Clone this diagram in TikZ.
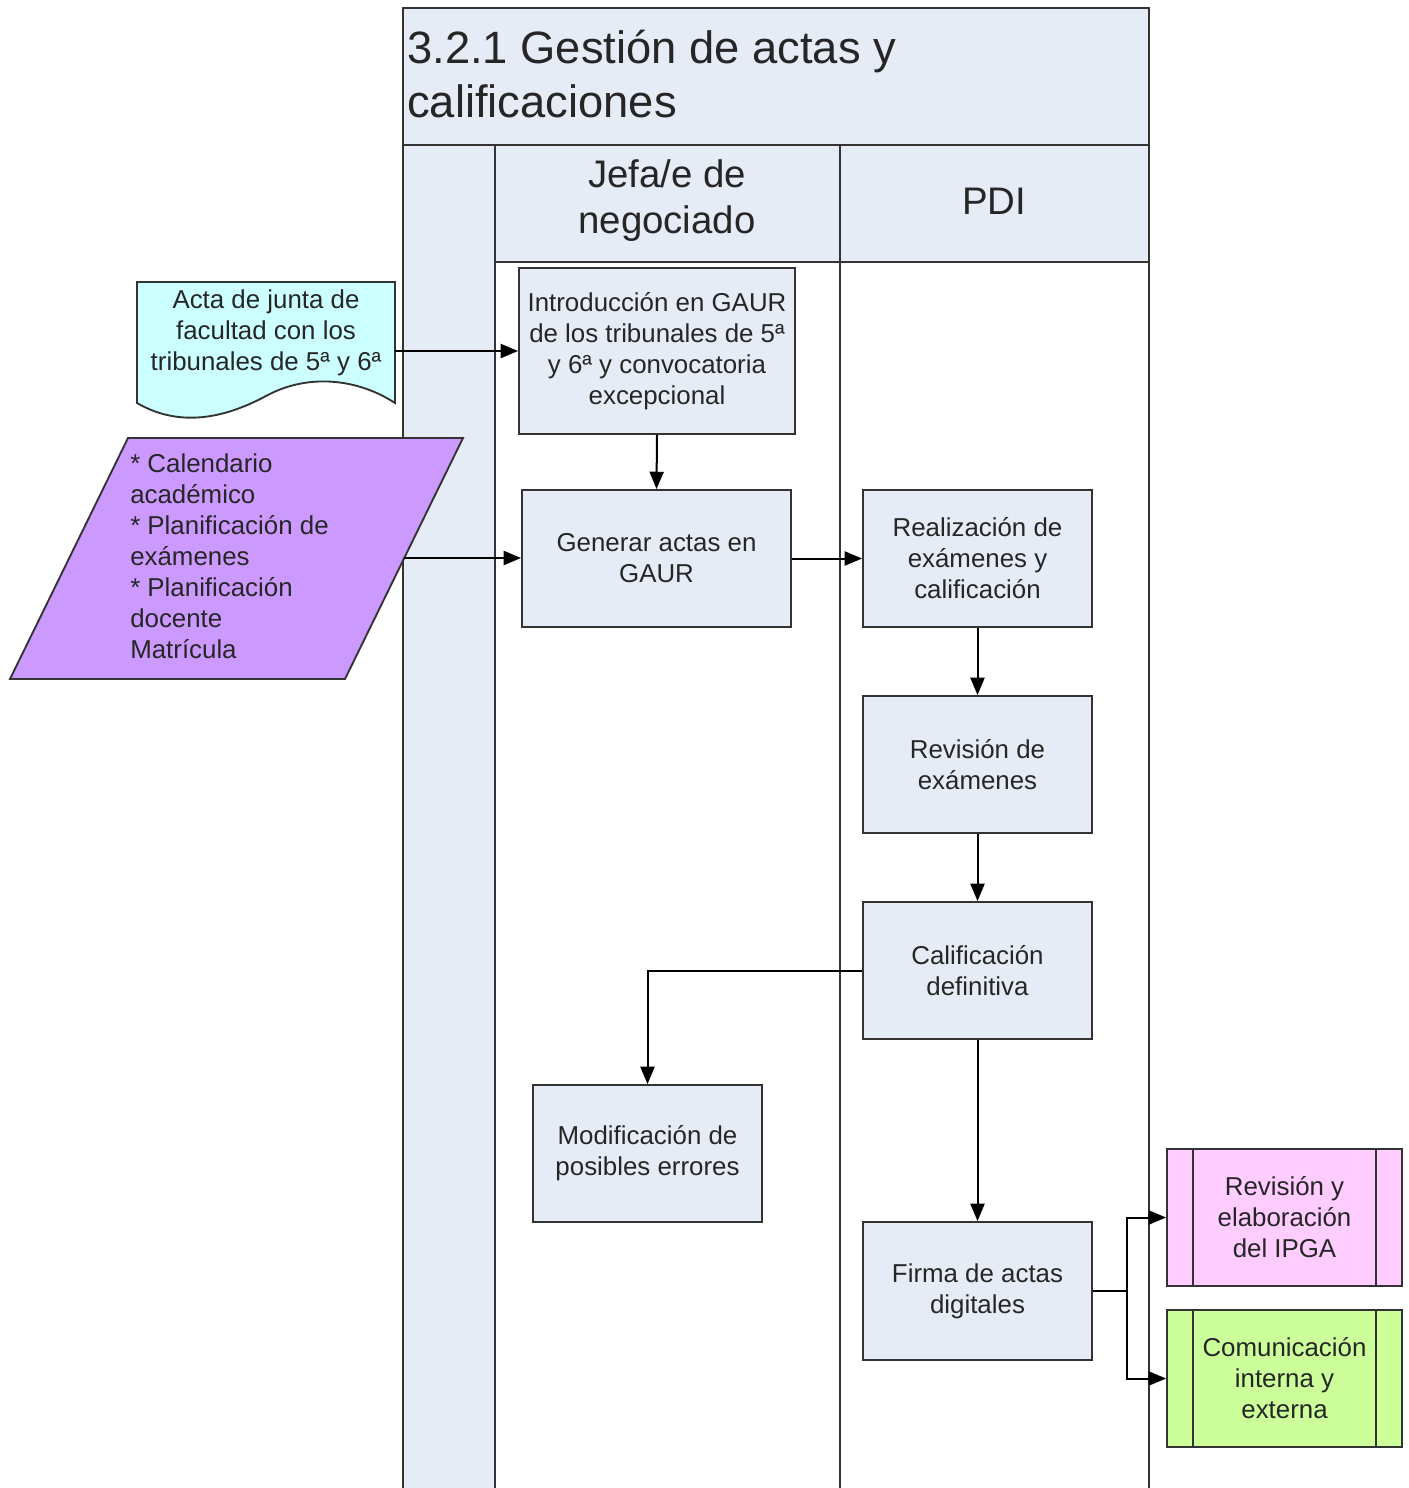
\documentclass[tikz,border=0pt]{standalone}
\usepackage{fontspec}
\setmainfont{Liberation Sans}
\usetikzlibrary{arrows.meta}
\definecolor{boxfill}{HTML}{E6ECF6}
\definecolor{poolfill}{HTML}{E6ECF6}
\definecolor{docfill}{HTML}{CCFFFF}
\definecolor{datafill}{HTML}{CC99FF}
\definecolor{pinkfill}{HTML}{FFCCFF}
\definecolor{greenfill}{HTML}{CCFF99}
\definecolor{textc}{HTML}{262626}
\definecolor{edgec}{HTML}{333333}
\begin{document}
\begin{tikzpicture}[x=0.75pt,y=-0.75pt,
  laneline/.style={draw=edgec, line width=2pt},
  txt/.style={text=textc, font=\fontsize{19.4}{23.3}\selectfont, inner sep=0pt},
  proc/.style={txt, draw=edgec, line width=1.4pt, fill=boxfill, align=center},
  arr/.style={draw=black, line width=1.5pt, -{Triangle[length=13pt,width=10.5pt]}},
  plain/.style={draw=black, line width=1.5pt}
]
\useasboundingbox (0,0) rectangle (1409,1488);
\fill[white] (0,0) rectangle (1409,1488);

% pool: title band, lane headers and left column
\fill[poolfill] (403,8) rectangle (1149,262);
\fill[poolfill] (403,262) rectangle (495,1488);
\draw[laneline] (403,1488) -- (403,8) -- (1149,8) -- (1149,1488);
\draw[laneline] (403,145) -- (1149,145);
\draw[laneline] (495,262) -- (1149,262);
\draw[laneline] (495,145) -- (495,1488);
\draw[laneline] (840,145) -- (840,1488);

\node[txt, anchor=west, align=left, font=\fontsize{34}{40.5}\selectfont] (title) at (407,74)
  {3.2.1 Gestión de actas y\\calificaciones};
\node[txt, align=center, font=\fontsize{28.8}{34.5}\selectfont] (jefa) at (667,201) {Jefa/e de\\negociado};
\node[txt, font=\fontsize{28.8}{34.5}\selectfont] (pdi) at (994,201) {PDI};

% input document
\draw[edgec, line width=1.4pt, fill=docfill]
  (137,282) -- (395,282) -- (395,403)
  .. controls (360,380) and (310,372) .. (266,396)
  .. controls (225,418) and (180,428) .. (137,403) -- cycle;
\node[txt, align=center, minimum width=193.5pt] (doc) at (266,333)
  {Acta de junta de\\facultad con los\\tribunales de 5ª y 6ª};

% input data (parallelogram)
\draw[edgec, line width=1.4pt, fill=datafill]
  (128,438) -- (463,438) -- (345,679) -- (10,679) -- cycle;
\node[txt, anchor=west, align=left] (inp) at (130,556)
  {* Calendario\\académico\\* Planificación de\\exámenes\\* Planificación\\docente\\Matrícula};
\coordinate (inpR) at (404,558);

% process steps
\node[proc, minimum width=207pt, minimum height=124.5pt] (intro) at (657,351)
  {Introducción en GAUR\\de los tribunales de 5ª\\y 6ª y convocatoria\\excepcional};
\node[proc, minimum width=201.75pt, minimum height=102.75pt] (gen) at (656.5,558.5)
  {Generar actas en\\GAUR};
\node[proc, minimum width=171.75pt, minimum height=102.75pt] (real) at (977.5,558.5)
  {Realización de\\exámenes y\\calificación};
\node[proc, minimum width=171.75pt, minimum height=102.75pt] (rev) at (977.5,764.5)
  {Revisión de\\exámenes};
\node[proc, minimum width=171.75pt, minimum height=102.75pt] (calif) at (977.5,970.5)
  {Calificación\\definitiva};
\node[proc, minimum width=171.75pt, minimum height=102.75pt] (modif) at (647.5,1153.5)
  {Modificación de\\posibles errores};
\node[proc, minimum width=171.75pt, minimum height=103.5pt] (firma) at (977.5,1291)
  {Firma de actas\\digitales};

% predefined processes
\node[proc, fill=pinkfill, minimum width=176.25pt, minimum height=102.75pt] (ipga) at (1284.5,1217.5)
  {Revisión y\\elaboración\\del IPGA};
\node[proc, fill=greenfill, minimum width=176.25pt, minimum height=102.75pt] (com) at (1284.5,1378.5)
  {Comunicación\\interna y\\externa};
\foreach \n in {ipga,com}{
  \draw[edgec, line width=1.4pt] ([xshift=20pt]\n.north west) -- ([xshift=20pt]\n.south west);
  \draw[edgec, line width=1.4pt] ([xshift=-20pt]\n.north east) -- ([xshift=-20pt]\n.south east);
}

% connectors
\draw[arr] (doc.east |- intro.west) -- (intro.west);
\draw[arr] (intro.south) -- (gen.north);
\draw[arr] (inpR) -- (inpR -| gen.west);
\draw[arr] (gen.east) -- (real.west);
\draw[arr] (real.south) -- (rev.north);
\draw[arr] (rev.south) -- (calif.north);
\draw[arr] (calif.west) -| (modif.north);
\draw[arr] (calif.south) -- (firma.north);
\coordinate (fork) at (1127,1291);
\draw[plain] (firma.east) -- (fork);
\draw[arr] (fork) |- (ipga.west);
\draw[arr] (fork) |- (com.west);
\end{tikzpicture}
\end{document}
